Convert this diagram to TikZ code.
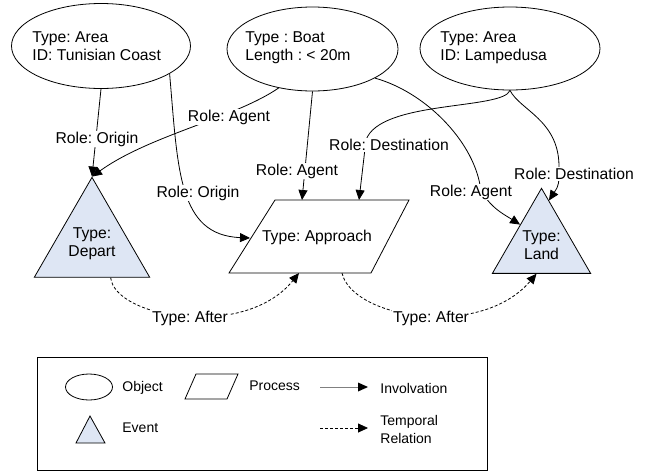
\documentclass[tikz,border=0pt]{standalone}
\usepackage{fontspec}
\setmainfont{Liberation Sans}
\frenchspacing
\usetikzlibrary{shapes.geometric,arrows.meta,calc}
\definecolor{evfill}{HTML}{DEE6F4}
\tikzset{
  obj/.style={draw, ellipse, inner sep=0pt},
  txt/.style={font=\fontsize{15.7}{18}\selectfont, inner sep=0pt, align=left},
  lgd/.style={font=\fontsize{14}{18}\selectfont, inner sep=0pt, align=left, anchor=west},
  lab/.style={font=\fontsize{15.7}{18}\selectfont, fill=white, inner sep=1pt},
  evt/.style={draw, fill=evfill, regular polygon, regular polygon sides=3, inner sep=0pt, align=center, font=\fontsize{15.7}{18}\selectfont},
  inv/.style={-{Triangle[length=10pt,width=9pt]}},
  tmp/.style={-{Triangle[length=10pt,width=9pt]}, dash pattern=on 3pt off 2pt},
}
\begin{document}
\begin{tikzpicture}[x=1pt,y=-1pt, line width=0.8pt]
\useasboundingbox (0,0) rectangle (647,472);
% objects
\node[obj, minimum width=179pt, minimum height=85pt] (e1) at (101,46) {};
\node[txt, anchor=west] (t1) at (32,46) {Type: Area\\ID: Tunisian Coast};
\node[obj, minimum width=171pt, minimum height=84pt] (boat) at (312.5,49) {};
\node[txt, anchor=west] (t2) at (245,47.5) {Type : Boat\\Length : < 20m};
\node[obj, minimum width=180pt, minimum height=83pt] (lamp) at (510,48.5) {};
\node[txt, anchor=west] (t3) at (440,47.5) {Type: Area\\ID: Lampedusa};
% events
\node[evt, minimum size=113.4pt] (dep) at (92,244) {Type:\\Depart};
\node[evt, minimum size=113.4pt] (land) at (541.5,245) {Type:\\Land};
% process
\coordinate (aTL) at (275,200);
\coordinate (aTR) at (409,200);
\coordinate (aBR) at (371,273);
\coordinate (aBL) at (229,273);
\draw (aTL) -- (aTR) -- (aBR) -- (aBL) -- cycle;
\node[txt] (app) at (317,237) {Type: Approach};
\coordinate (aTop1) at (302,200);
\coordinate (aTop2) at (359,200);
\coordinate (aLeft) at (250,238);
\coordinate (aBot1) at (299,273);
\coordinate (aBot2) at (342,273);
% involvation edges
\draw[inv] (e1.south) -- (dep.corner 1);
\node[lab] (l1) at (97,139) {Role: Origin};
\draw[inv] (boat.229) .. controls (235,118) and (150,135) .. (dep.corner 1);
\node[lab] (l2) at (229,117) {Role: Agent};
\draw[inv] (e1.338) .. controls (178,170) and (178,235) .. (aLeft);
\node[lab] (l3) at (198,193) {Role: Origin};
\draw[inv] (boat.south) -- (aTop1);
\node[lab] (l4) at (297,171) {Role: Agent};
\draw[inv] (lamp.south) .. controls (503,110) and (380,100) .. (366,140) -- (aTop2);
\node[lab] (l5) at (389,145) {Role: Destination};
\draw[inv] (boat.335) .. controls (425,92) and (472,140) .. (480,185)
  .. controls (485,205) and (505,215) .. ($(land.corner 1)!0.43!(land.corner 2)$);
\node[lab] (l6) at (471,192) {Role: Agent};
\draw[inv] (lamp.south) .. controls (520,110) and (558,120) .. (559,165)
  .. controls (559,185) .. ($(land.corner 1)!0.15!(land.corner 3)$);
\node[lab] (l7) at (574,174) {Role: Destination};
% temporal edges
\draw[tmp] ($(dep.corner 2)!0.66!(dep.corner 3)$) .. controls (115,318) and (245,340) .. (aBot1);
\node[lab] (l8) at (190,318) {Type: After};
\draw[tmp] (aBot2) .. controls (352,318) and (480,340) .. ($(land.corner 2)!0.45!(land.corner 3)$);
\node[lab] (l9) at (431,318) {Type: After};
% legend
\node[draw, minimum width=450pt, minimum height=113pt, inner sep=0pt] (leg) at (262,413.5) {};
\node[obj, minimum width=47pt, minimum height=26pt] (lobj) at (89,387) {};
\node[lgd] (lobjt) at (122,388) {Object};
\draw (196,374) -- (238,374) -- (227,399) -- (185,399) -- cycle;
\node[lgd] (lprt) at (249,386) {Process};
\coordinate (li1) at (320,387);
\coordinate (li2) at (368,387);
\draw[draw=gray] (li1) -- ($(li2)+(-9,0)$);
\fill (li2) -- ++(-10,-4.5) -- ++(0,9) -- cycle;
\node[lgd] (linv) at (380,388) {Involvation};
\draw[fill=evfill] (90,416) -- (105,443) -- (76,443) -- cycle;
\node[lgd] (levt) at (122,428) {Event};
\coordinate (lt1) at (320,428);
\coordinate (lt2) at (368,428);
\draw[tmp] (lt1) -- (lt2);
\node[lgd] (ltmp) at (380,429) {Temporal\\Relation};
\end{tikzpicture}
\end{document}
